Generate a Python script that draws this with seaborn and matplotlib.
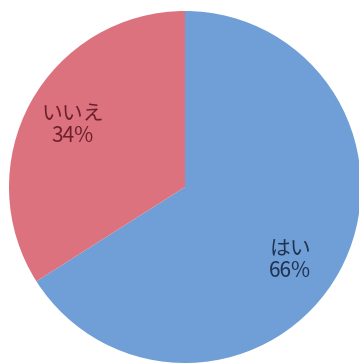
import matplotlib
matplotlib.use("Agg")
import matplotlib.pyplot as plt
import seaborn as sns

# Data
answers = ["はい", "いいえ"]
shares = [66, 34]
colors = ["#6f9fd6", "#db727e"]
text_colors = ["#1f3350", "#6e1f2c"]

sns.set_theme(style="white")
plt.rcParams["font.family"] = ["Noto Sans CJK JP", "DejaVu Sans"]

fig = plt.figure(figsize=(3.59, 3.63), dpi=100)
ax = fig.add_axes([0, 0, 1, 1])

labels = [f"{a}\n{s}%" for a, s in zip(answers, shares)]
wedges, texts = ax.pie(
    shares,
    labels=labels,
    colors=colors,
    startangle=90,
    counterclock=False,
    radius=176,
    center=(185, 176),
    labeldistance=0.73,
    frame=True,
    wedgeprops=dict(linewidth=0, edgecolor="none"),
    textprops=dict(fontsize=15, ha="center", va="center", linespacing=1.0),
)
for t, c in zip(texts, text_colors):
    t.set_color(c)
# nudge the "はい" label to where it sits in the source
texts[0].set_position((290, 103))

ax.set_xlim(0, 359)
ax.set_ylim(0, 363)
ax.set_aspect("equal")
ax.axis("off")

fig.savefig("out.png", dpi=100)
plt.close(fig)
